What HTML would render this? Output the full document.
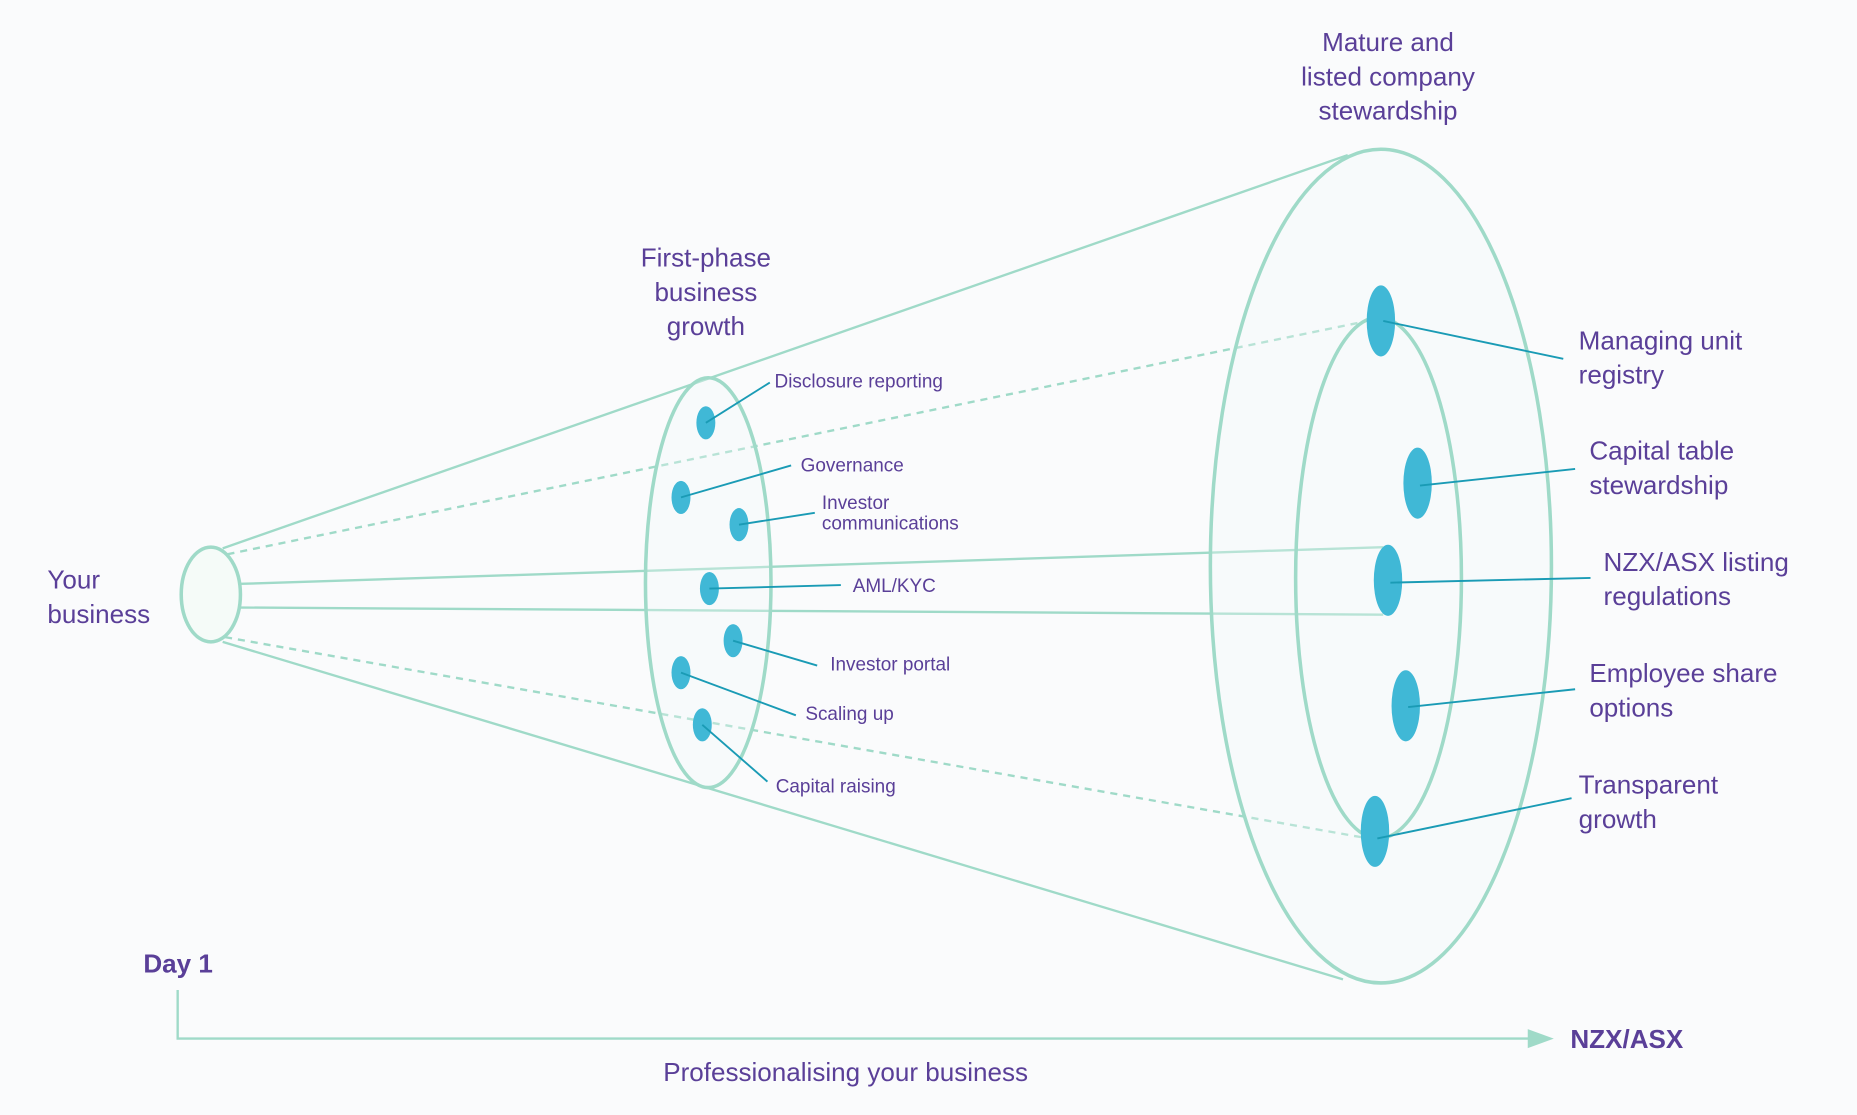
<!DOCTYPE html>
<html><head><meta charset="utf-8"><style>
html,body{margin:0;padding:0;background:#fafbfc;}
svg{display:block}
text{font-family:"Liberation Sans",sans-serif;fill:#5a3f98}
</style></head><body>
<svg width="1857" height="1115" viewBox="0 0 1568 941.5" xmlns="http://www.w3.org/2000/svg">
<rect width="1568" height="941.5" fill="#fafbfc"/>
<g stroke="#9fdac8" stroke-width="2" fill="none">
<line x1="188" y1="463" x2="1138" y2="131"/>
<line x1="188" y1="542" x2="1134" y2="827"/>
<line x1="203" y1="493" x2="1168" y2="462"/>
<line x1="203" y1="513" x2="1168" y2="519"/>
<line x1="192" y1="468" x2="1150" y2="272" stroke-dasharray="6,5"/>
<line x1="190" y1="538" x2="1150" y2="707" stroke-dasharray="6,5"/>
</g>
<ellipse cx="1166" cy="478" rx="144" ry="352" fill="#f3faf7" fill-opacity="0.3" stroke="#9fdac8" stroke-width="3"/>
<ellipse cx="1164" cy="488" rx="70" ry="220" fill="none" stroke="#9fdac8" stroke-width="3"/>
<ellipse cx="598" cy="492" rx="53" ry="173" fill="#f3faf7" fill-opacity="0.3" stroke="#9fdac8" stroke-width="3"/>
<ellipse cx="178" cy="502" rx="25" ry="40" fill="#f5fbf8" stroke="#9fdac8" stroke-width="3"/>
<line x1="1172" y1="462" x2="1172" y2="519" stroke="#9fdac8" stroke-width="2"/>
<g fill="#40b8d6">
<ellipse cx="1166" cy="271" rx="12" ry="30"/>
<ellipse cx="1197" cy="408" rx="12" ry="30"/>
<ellipse cx="1172" cy="490" rx="12" ry="30"/>
<ellipse cx="1187" cy="596" rx="12" ry="30"/>
<ellipse cx="1161" cy="702" rx="12" ry="30"/>
<ellipse cx="596" cy="357" rx="8" ry="14"/>
<ellipse cx="575" cy="420" rx="8" ry="14"/>
<ellipse cx="624" cy="443" rx="8" ry="14"/>
<ellipse cx="599" cy="497" rx="8" ry="14"/>
<ellipse cx="619" cy="541" rx="8" ry="14"/>
<ellipse cx="575" cy="568" rx="8" ry="14"/>
<ellipse cx="593" cy="612" rx="8" ry="14"/>
</g>
<g stroke="#1a9bb5" stroke-width="1.6">
<line x1="1168" y1="271" x2="1320" y2="303"/>
<line x1="1199" y1="410" x2="1330" y2="396"/>
<line x1="1174" y1="492" x2="1343" y2="488"/>
<line x1="1189" y1="597" x2="1330" y2="582"/>
<line x1="1163" y1="708" x2="1327" y2="674"/>
<line x1="596" y1="357" x2="650" y2="323"/>
<line x1="575" y1="420" x2="668" y2="393"/>
<line x1="624" y1="443" x2="688" y2="433"/>
<line x1="599" y1="497" x2="710" y2="494"/>
<line x1="619" y1="541" x2="690" y2="562"/>
<line x1="575" y1="568" x2="672" y2="604"/>
<line x1="593" y1="612" x2="648" y2="660"/>
</g>
<g font-size="22" text-anchor="middle">
<text x="1172" y="43">Mature and</text>
<text x="1172" y="72">listed company</text>
<text x="1172" y="101">stewardship</text>
<text x="596" y="225">First-phase</text>
<text x="596" y="254">business</text>
<text x="596" y="283">growth</text>
</g>
<g font-size="22">
<text x="40" y="497">Your</text>
<text x="40" y="526">business</text>
<text x="1333" y="295">Managing unit</text>
<text x="1333" y="324">registry</text>
<text x="1342" y="388">Capital table</text>
<text x="1342" y="417">stewardship</text>
<text x="1354" y="482">NZX/ASX listing</text>
<text x="1354" y="511">regulations</text>
<text x="1342" y="576">Employee share</text>
<text x="1342" y="605">options</text>
<text x="1333" y="670">Transparent</text>
<text x="1333" y="699">growth</text>
<text x="560" y="913">Professionalising your business</text>
</g>
<g font-size="16">
<text x="654" y="327">Disclosure reporting</text>
<text x="676" y="398">Governance</text>
<text x="694" y="430">Investor</text>
<text x="694" y="447">communications</text>
<text x="720" y="500">AML/KYC</text>
<text x="701" y="566">Investor portal</text>
<text x="680" y="608">Scaling up</text>
<text x="655" y="669">Capital raising</text>
</g>
<g font-size="22" font-weight="bold">
<text x="121" y="821">Day 1</text>
<text x="1326" y="885">NZX/ASX</text>
</g>
<polyline points="150,836 150,877 1295,877" fill="none" stroke="#9fdac8" stroke-width="2"/>
<polygon points="1290,869 1312,877 1290,885" fill="#9fdac8"/>
</svg>
</body></html>
